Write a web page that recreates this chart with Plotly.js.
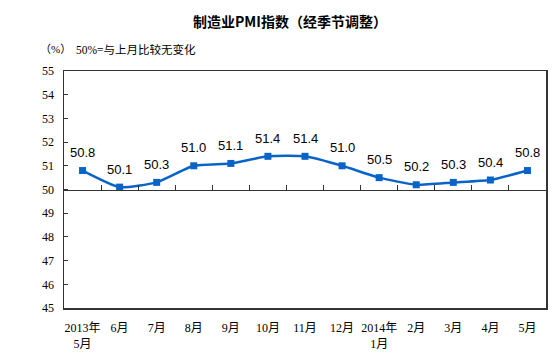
<!DOCTYPE html>
<html><head><meta charset="utf-8">
<script src="https://cdn.plot.ly/plotly-3.0.1.min.js"></script>
<style>html,body{margin:0;padding:0;background:#fff}#c{width:553px;height:364px}</style>
</head><body><div id="c"></div>
<script>
const categories = ["2013年<br>5月","6月","7月","8月","9月","10月","11月","12月","2014年<br>1月","2月","3月","4月","5月"];
const pmi = [50.8, 50.1, 50.3, 51.0, 51.1, 51.4, 51.4, 51.0, 50.5, 50.2, 50.3, 50.4, 50.8];
const yTicks = [45,46,47,48,49,50,51,52,53,54,55];
const titleText = "制造业PMI指数（经季节调整）";
const unitText = "（%）";
const noteText = "50%=与上月比较无变化";

const idx = categories.map((_, i) => i);
const blue = "#0A64C8";
const labelFont = {family: "Liberation Serif, Noto Sans CJK SC, serif", size: 12, color: "#000"};

const trace = {
  x: idx, y: pmi, type: "scatter", mode: "lines+markers",
  line: {color: blue, width: 2.5, shape: "spline", smoothing: 0.5},
  marker: {symbol: "square", size: 7, color: blue},
  hoverinfo: "skip", xaxis: "x", yaxis: "y"
};
const helper = {x: [-0.5, 12.5], y: [50, 50], xaxis: "x2", yaxis: "y", mode: "none", type: "scatter", hoverinfo: "skip", showlegend: false};

const annotations = pmi.map((v, i) => ({
  x: i, y: v, xref: "x", yref: "y", text: v.toFixed(1), showarrow: false,
  yshift: 18, font: {family: "Liberation Sans, Arial, sans-serif", size: 13, color: "#000"}
}));
annotations.push({x: 0.5, xref: "paper", y: 22, yref: "paper", text: titleText, showarrow: false});
annotations.pop();
annotations.push(
  {xref: "paper", yref: "paper", x: (290-64)/482, y: 1 + (71-21)/237, text: titleText, showarrow: false,
   font: {family: "Noto Sans CJK SC, sans-serif", size: 14, color: "#000", weight: "bold"}, xanchor: "center", yanchor: "middle"},
  {xref: "paper", yref: "paper", x: (38-64)/482, y: 1 + (71-49)/237, text: unitText, showarrow: false,
   font: {family: "Liberation Serif, Noto Sans CJK SC, serif", size: 11, color: "#000"}, xanchor: "left", yanchor: "middle"},
  {xref: "paper", yref: "paper", x: (74-64)/482, y: 1 + (71-49)/237, text: noteText, showarrow: false,
   font: {family: "Liberation Serif, Noto Sans CJK SC, serif", size: 11.5, color: "#000"}, xanchor: "left", yanchor: "middle"}
);

const layout = {
  width: 553, height: 364,
  margin: {l: 64, r: 7, t: 71, b: 56},
  paper_bgcolor: "#fff", plot_bgcolor: "#fff",
  showlegend: false,
  xaxis: {
    range: [-0.5, 12.5], tickmode: "array", tickvals: idx, ticktext: categories,
    showgrid: false, zeroline: false, showline: true, linecolor: "#333", linewidth: 1.5, mirror: true,
    ticks: "outside", ticklen: 8, tickcolor: "rgba(0,0,0,0)", tickfont: labelFont, fixedrange: true
  },
  xaxis2: {
    range: [-0.5, 12.5], overlaying: "x", anchor: "free", position: 0.5,
    tickmode: "linear", tick0: 0.5, dtick: 1, ticks: "inside", ticklen: 5, tickcolor: "#333",
    showticklabels: false, showgrid: false, zeroline: false, showline: true, linecolor: "#333", linewidth: 1.2
  },
  yaxis: {
    range: [45, 55], tickmode: "array", tickvals: yTicks, ticktext: yTicks.map(String),
    showgrid: false, zeroline: false, showline: true, linecolor: "#333", linewidth: 1.5, mirror: true,
    ticks: "inside", ticklen: 4, tickcolor: "#333", ticklabelstandoff: 6, tickfont: labelFont, fixedrange: true
  },
  annotations: annotations
};
Plotly.newPlot("c", [helper, trace], layout, {staticPlot: true, displayModeBar: false});
</script></body></html>
